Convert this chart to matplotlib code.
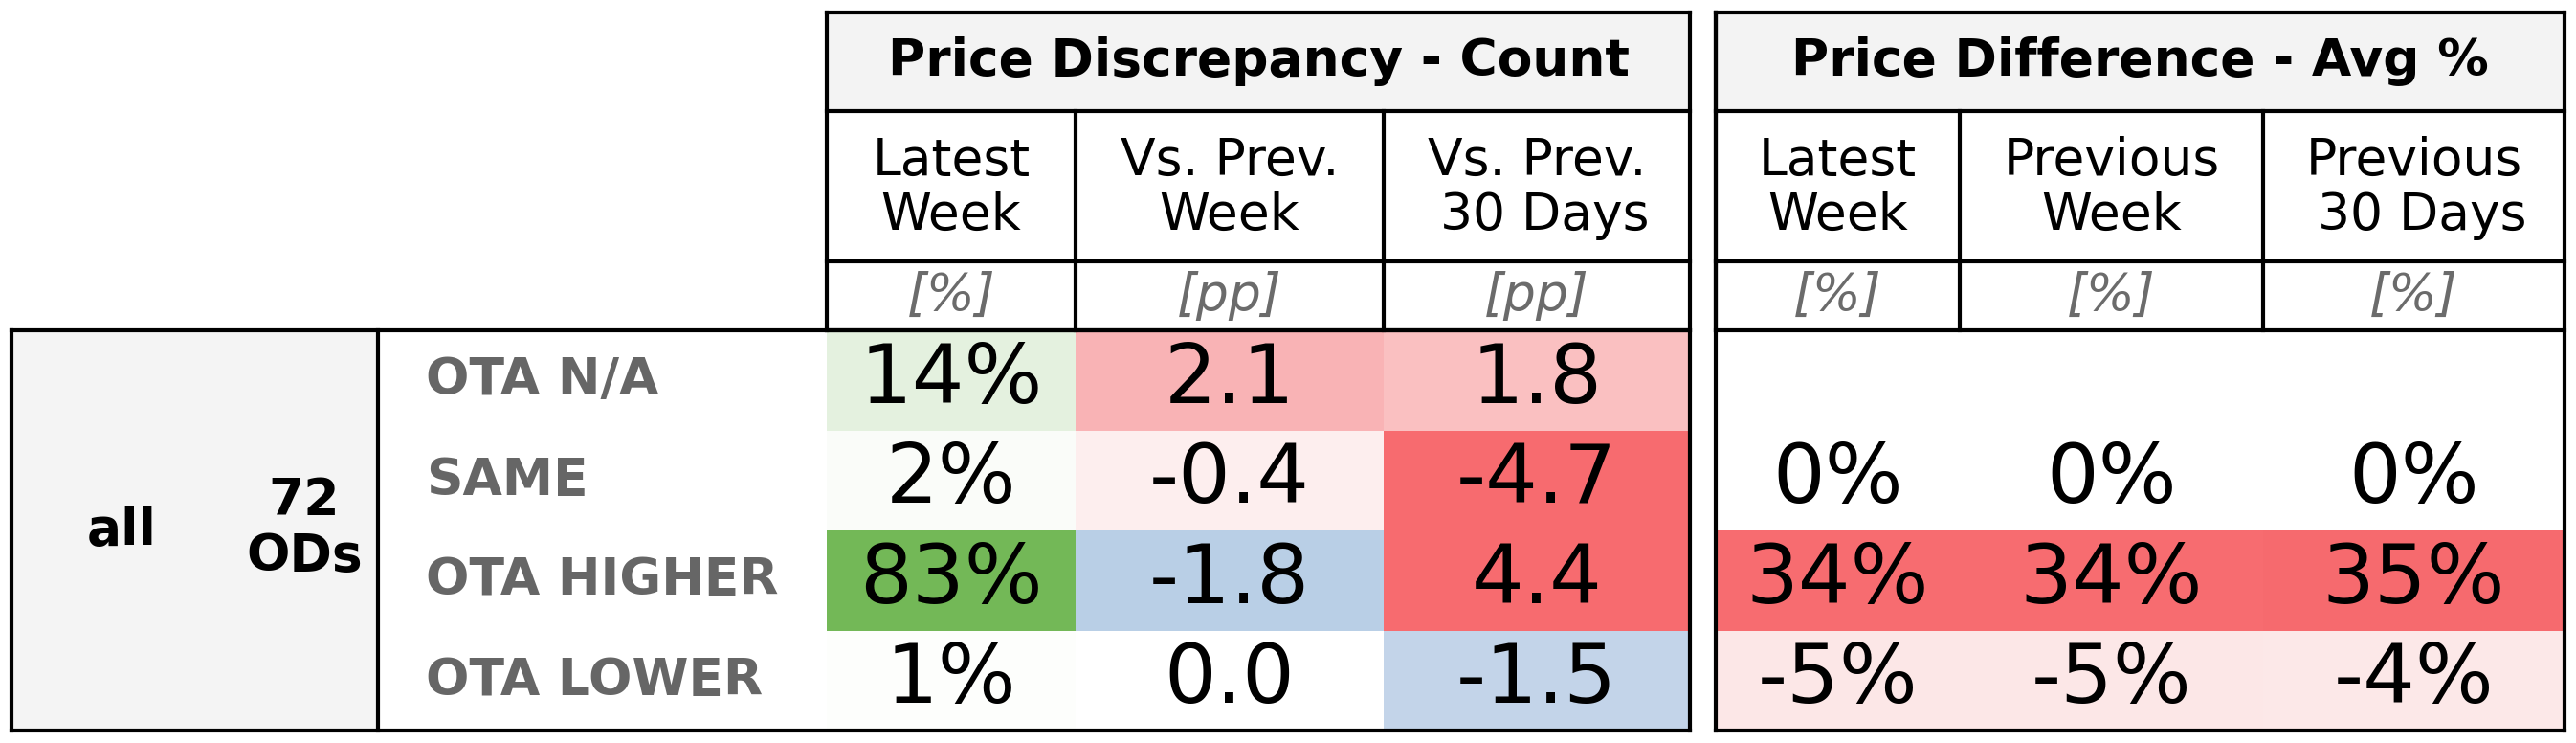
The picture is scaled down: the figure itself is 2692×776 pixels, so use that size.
import matplotlib
matplotlib.use("Agg")
import matplotlib.pyplot as plt
from matplotlib.patches import Rectangle


# ----------------------------
# Data
# ----------------------------

row_labels = ["OTA N/A", "SAME", "OTA HIGHER", "OTA LOWER"]

segment = "all"
od_count = 72

count_headers = ["Latest\nWeek", "Vs. Prev.\nWeek", "Vs. Prev.\n 30 Days"]
count_units = ["[%]", "[pp]", "[pp]"]

latest_week_pct = [14, 2, 83, 1]
vs_prev_week_pp = [2.1, -0.4, -1.8, 0.0]
vs_prev_30d_pp = [1.8, -4.7, 4.4, -1.5]

diff_headers = ["Latest\nWeek", "Previous\nWeek", "Previous\n 30 Days"]
diff_units = ["[%]", "[%]", "[%]"]

diff_latest_week = [None, 0, 34, -5]
diff_prev_week = [None, 0, 34, -5]
diff_prev_30d = [None, 0, 35, -4]


# ----------------------------
# Style
# ----------------------------

count_colors = [
    ["#e4f1df", "#f9b3b5", "#fac0c1"],
    ["#fafcf9", "#fdeeee", "#f76b6f"],
    ["#73b857", "#b9cfe6", "#f76b6f"],
    ["#fdfefc", "#ffffff", "#c3d4e9"],
]

diff_colors = [
    ["#ffffff", "#ffffff", "#ffffff"],
    ["#ffffff", "#ffffff", "#ffffff"],
    ["#f76c70", "#f76c70", "#f66a6e"],
    ["#fce7e7", "#fce7e7", "#fce8e8"],
]

LW = 3.0
TXT = 38.5
VAL = 62
LSP = 1.13

# layout in pixels
Y_TOP = 13
Y_HEAD = 116
Y_SUB = 273
Y_DATA = 345
Y_BOT = 763

X_LEFT = 12
X_DIV = 395
COUNT_X = [864, 1124, 1446, 1766]
DIFF_X = [1793, 2048, 2365, 2680]
X_LABEL = 445
X_ALL = 127
X_OD = 318


def fmt_pct(v):
    return f"{v:.0f}%"


def fmt_pp(v):
    return f"{v:.1f}"


def draw_header(ax, xs, title, headers, units):

    x0, x1 = xs[0], xs[-1]

    ax.add_patch(Rectangle(
        (x0, Y_TOP), x1 - x0, Y_HEAD - Y_TOP,
        facecolor="#f3f3f3", edgecolor="none"
    ))

    ax.text(
        (x0 + x1) / 2, (Y_TOP + Y_HEAD) / 2, title,
        ha="center", va="center",
        fontsize=TXT, fontweight="bold"
    )

    for i in range(3):
        cx = (xs[i] + xs[i + 1]) / 2
        ax.text(
            cx, (Y_HEAD + Y_SUB) / 2 + 2, headers[i],
            ha="center", va="center", fontsize=TXT,
            linespacing=LSP
        )
        ax.text(
            cx, (Y_SUB + Y_DATA) / 2, units[i],
            ha="center", va="center", fontsize=TXT,
            style="italic", color="#6b6b6b"
        )

    # lines
    for y in [Y_TOP, Y_HEAD, Y_SUB, Y_DATA]:
        ax.plot([x0, x1], [y, y], color="black", lw=LW,
                solid_capstyle="projecting")

    for x in xs[1:-1]:
        ax.plot([x, x], [Y_HEAD, Y_DATA], color="black", lw=LW)

    ax.plot([x0, x0], [Y_TOP, Y_DATA], color="black", lw=LW)
    ax.plot([x1, x1], [Y_TOP, Y_BOT], color="black", lw=LW,
            solid_capstyle="projecting")


def draw_cells(ax, xs, columns, colors, formats):

    row_h = (Y_BOT - Y_DATA) / len(row_labels)

    for r in range(len(row_labels)):
        y0 = Y_DATA + r * row_h
        for c, values in enumerate(columns):
            ax.add_patch(Rectangle(
                (xs[c], y0), xs[c + 1] - xs[c], row_h,
                facecolor=colors[r][c], edgecolor="none"
            ))
            v = values[r]
            if v is None:
                continue
            ax.text(
                (xs[c] + xs[c + 1]) / 2, y0 + row_h / 2,
                formats[c](v),
                ha="center", va="center", fontsize=VAL
            )


# ----------------------------
# Figure
# ----------------------------

def main():

    fig = plt.figure(figsize=(26.92, 7.76), dpi=100)

    ax = fig.add_axes([0, 0, 1, 1])
    ax.set_xlim(0, 2692)
    ax.set_ylim(776, 0)
    ax.axis("off")

    # left block (segment)
    ax.add_patch(Rectangle(
        (X_LEFT, Y_DATA), X_DIV - X_LEFT, Y_BOT - Y_DATA,
        facecolor="#f4f4f4", edgecolor="none"
    ))

    row_h = (Y_BOT - Y_DATA) / len(row_labels)

    for r, label in enumerate(row_labels):
        ax.text(
            X_LABEL, Y_DATA + r * row_h + row_h / 2, label,
            ha="left", va="center", fontsize=TXT,
            fontweight="bold", color="#666666"
        )

    mid = (Y_DATA + Y_BOT) / 2

    ax.text(X_ALL, mid, segment, ha="center", va="center",
            fontsize=TXT, fontweight="bold")

    ax.text(X_OD, mid - 2, f"{od_count}\nODs", ha="center", va="center",
            fontsize=TXT, fontweight="bold", linespacing=LSP)

    draw_cells(
        ax, COUNT_X,
        [latest_week_pct, vs_prev_week_pp, vs_prev_30d_pp],
        count_colors,
        [fmt_pct, fmt_pp, fmt_pp]
    )

    draw_cells(
        ax, DIFF_X,
        [diff_latest_week, diff_prev_week, diff_prev_30d],
        diff_colors,
        [fmt_pct, fmt_pct, fmt_pct]
    )

    draw_header(ax, COUNT_X, "Price Discrepancy - Count",
                count_headers, count_units)

    draw_header(ax, DIFF_X, "Price Difference - Avg %",
                diff_headers, diff_units)

    # outer frame of the data block
    ax.plot([X_LEFT, COUNT_X[-1]], [Y_DATA, Y_DATA], color="black",
            lw=LW, solid_capstyle="projecting")
    ax.plot([X_LEFT, COUNT_X[-1]], [Y_BOT, Y_BOT], color="black",
            lw=LW, solid_capstyle="projecting")
    ax.plot([X_LEFT, X_LEFT], [Y_DATA, Y_BOT], color="black",
            lw=LW, solid_capstyle="projecting")
    ax.plot([X_DIV, X_DIV], [Y_DATA, Y_BOT], color="black", lw=LW)

    ax.plot([DIFF_X[0], DIFF_X[-1]], [Y_BOT, Y_BOT], color="black",
            lw=LW, solid_capstyle="projecting")
    ax.plot([DIFF_X[0], DIFF_X[0]], [Y_TOP, Y_BOT], color="black",
            lw=LW, solid_capstyle="projecting")

    fig.savefig("out.png", dpi=100, facecolor="white")

    plt.close(fig)


if __name__ == "__main__":
    main()
